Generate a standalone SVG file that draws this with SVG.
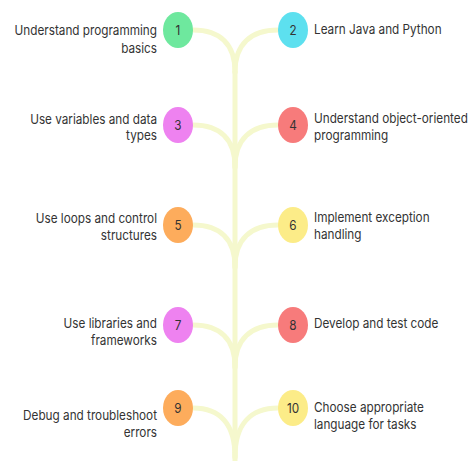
<svg xmlns="http://www.w3.org/2000/svg" width="475" height="461" viewBox="0 0 475 461">
<style>
.bg{fill:#ffffff}
.stem{fill:none;stroke:#f5f8cd;stroke-width:5;stroke-linecap:round}
.lbl{font-family:Inter,"Liberation Sans",sans-serif;font-size:13.5px;fill:#333333}
.l{text-anchor:end}
.r{text-anchor:start}
.num{font-family:Inter,"Liberation Sans",sans-serif;font-size:13.5px;fill:#333333;text-anchor:middle;dominant-baseline:central}
</style>
<rect class="bg" x="0" y="0" width="475" height="461"/>
<g id="connectors">
<path class="stem" d="M235 72 L235 463"/>
<path class="stem" d="M193 30 C220 30 235 44 235 72"/>
<path class="stem" d="M278 30 C251 30 235 44 235 72"/>
<path class="stem" d="M193 125 C220 125 235 139 235 167"/>
<path class="stem" d="M278 125 C251 125 235 139 235 167"/>
<path class="stem" d="M193 225 C220 225 235 239 235 267"/>
<path class="stem" d="M278 225 C251 225 235 239 235 267"/>
<path class="stem" d="M193 325 C220 325 235 339 235 367"/>
<path class="stem" d="M278 325 C251 325 235 339 235 367"/>
<path class="stem" d="M193 408 C220 408 235 424 235 457"/>
<path class="stem" d="M278 408 C251 408 235 424 235 457"/>
</g>
<g id="node1"><ellipse cx="178" cy="30" rx="15" ry="18" fill="#6ee89e"/><g transform="translate(178 30) scale(0.87 1)"><text class="num" x="0" y="0">1</text></g>
<g transform="translate(157 0) scale(0.87 1)"><text class="lbl l" x="0" y="35">Understand programming</text><text class="lbl l" x="0" y="53">basics</text></g></g>
<g id="node2"><ellipse cx="293" cy="30" rx="15" ry="18" fill="#5de0ef"/><g transform="translate(293 30) scale(0.87 1)"><text class="num" x="0" y="0">2</text></g>
<g transform="translate(314 0) scale(0.87 1)"><text class="lbl r" x="0" y="34">Learn Java and Python</text></g></g>
<g id="node3"><ellipse cx="178" cy="125" rx="15" ry="18" fill="#ee82f0"/><g transform="translate(178 125) scale(0.87 1)"><text class="num" x="0" y="0">3</text></g>
<g transform="translate(157 0) scale(0.87 1)"><text class="lbl l" x="0" y="124">Use variables and data</text><text class="lbl l" x="0" y="140">types</text></g></g>
<g id="node4"><ellipse cx="293" cy="125" rx="15" ry="18" fill="#f77b7b"/><g transform="translate(293 125) scale(0.87 1)"><text class="num" x="0" y="0">4</text></g>
<g transform="translate(314 0) scale(0.87 1)"><text class="lbl r" x="0" y="123">Understand object-oriented</text><text class="lbl r" x="0" y="140">programming</text></g></g>
<g id="node5"><ellipse cx="178" cy="225" rx="15" ry="18" fill="#fdac5c"/><g transform="translate(178 225) scale(0.87 1)"><text class="num" x="0" y="0">5</text></g>
<g transform="translate(157 0) scale(0.87 1)"><text class="lbl l" x="0" y="223">Use loops and control</text><text class="lbl l" x="0" y="240">structures</text></g></g>
<g id="node6"><ellipse cx="293" cy="225" rx="15" ry="18" fill="#fcec88"/><g transform="translate(293 225) scale(0.87 1)"><text class="num" x="0" y="0">6</text></g>
<g transform="translate(314 0) scale(0.87 1)"><text class="lbl r" x="0" y="222">Implement exception</text><text class="lbl r" x="0" y="239">handling</text></g></g>
<g id="node7"><ellipse cx="178" cy="325" rx="15" ry="18" fill="#ee82f0"/><g transform="translate(178 325) scale(0.87 1)"><text class="num" x="0" y="0">7</text></g>
<g transform="translate(157 0) scale(0.87 1)"><text class="lbl l" x="0" y="328">Use libraries and</text><text class="lbl l" x="0" y="345">frameworks</text></g></g>
<g id="node8"><ellipse cx="293" cy="325" rx="15" ry="18" fill="#f77b7b"/><g transform="translate(293 325) scale(0.87 1)"><text class="num" x="0" y="0">8</text></g>
<g transform="translate(314 0) scale(0.87 1)"><text class="lbl r" x="0" y="328">Develop and test code</text></g></g>
<g id="node9"><ellipse cx="178" cy="408" rx="15" ry="18" fill="#fdac5c"/><g transform="translate(178 408) scale(0.87 1)"><text class="num" x="0" y="0">9</text></g>
<g transform="translate(157 0) scale(0.87 1)"><text class="lbl l" x="0" y="420">Debug and troubleshoot</text><text class="lbl l" x="0" y="437">errors</text></g></g>
<g id="node10"><ellipse cx="293" cy="408" rx="15" ry="18" fill="#fcec88"/><g transform="translate(293 408) scale(0.87 1)"><text class="num" x="0" y="0">10</text></g>
<g transform="translate(314 0) scale(0.87 1)"><text class="lbl r" x="0" y="412">Choose appropriate</text><text class="lbl r" x="0" y="429">language for tasks</text></g></g>
</svg>
